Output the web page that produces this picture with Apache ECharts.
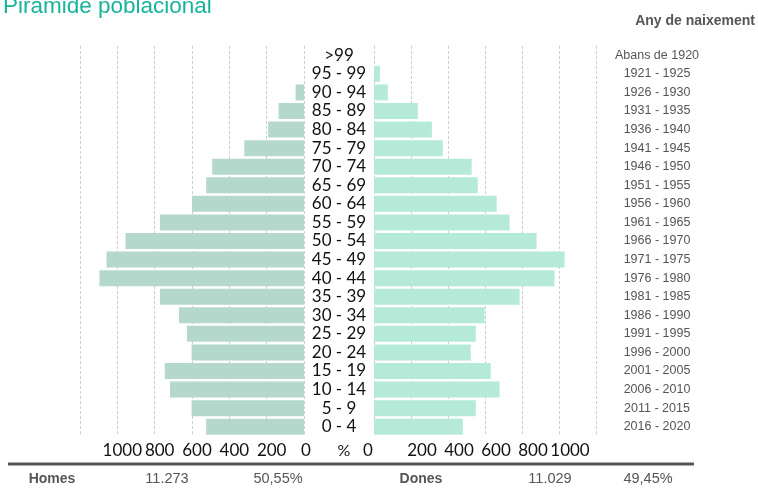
<!DOCTYPE html>
<html>
<head>
<meta charset="utf-8">
<script src="https://cdn.jsdelivr.net/npm/echarts@6/dist/echarts.min.js"></script>
<style>html,body{margin:0;padding:0;background:#fff}#c{width:758px;height:491px}</style>
</head>
<body>
<div id="c"></div>
<script>
const ageGroups = ['>99','95 - 99','90 - 94','85 - 89','80 - 84','75 - 79','70 - 74','65 - 69','60 - 64','55 - 59','50 - 54','45 - 49','40 - 44','35 - 39','30 - 34','25 - 29','20 - 24','15 - 19','10 - 14','5 - 9','0 - 4'];
const birthYears = ['Abans de 1920','1921 - 1925','1926 - 1930','1931 - 1935','1936 - 1940','1941 - 1945','1946 - 1950','1951 - 1955','1956 - 1960','1961 - 1965','1966 - 1970','1971 - 1975','1976 - 1980','1981 - 1985','1986 - 1990','1991 - 1995','1996 - 2000','2001 - 2005','2006 - 2010','2011 - 2015','2016 - 2020'];
const men = [0, 0, 45, 136, 192, 320, 492, 524, 600, 772, 956, 1058, 1096, 772, 670, 627, 602, 746, 718, 602, 524];
const women = [0, 32, 75, 237, 313, 372, 528, 561, 663, 733, 879, 1030, 976, 787, 598, 550, 523, 631, 679, 550, 480];
const tickValues = [0, 200, 400, 600, 800, 1000];
const summary = {menLabel:'Homes', menTotal:'11.273', menPct:'50,55%', womenLabel:'Dones', womenTotal:'11.029', womenPct:'49,45%'};

const chart = echarts.init(document.getElementById('c'), null, {renderer:'canvas'});
const ageFont = 'Lato, "Noto Sans", sans-serif';
const narrow = '"Liberation Sans Narrow", "Liberation Sans", Arial, sans-serif';
const splitLine = {show:true, lineStyle:{color:'#cfcfc8', type:[3,2], width:1}};
function xLabel(side){
  const base = {fontSize:17, fontFamily:ageFont, color:'#111'};
  return {
    show:true, margin:6, fontSize:17, fontFamily:ageFont, color:'#111',
    formatter: v => tickValues.indexOf(v) < 0 ? '' : (v === 0 ? '{z|0}' : '{n|' + v + '}'),
    rich: side === 'L'
      ? {n:Object.assign({padding:[0,0,0,10]}, base), z:Object.assign({padding:[0,0,0,4]}, base)}
      : {n:Object.assign({padding:[0,0,0,22]}, base), z:Object.assign({padding:[0,12,0,0]}, base)}
  };
}
chart.setOption({
  animation:false,
  grid:[
    {left:80, width:224, top:46, height:390},
    {left:374, width:222, top:46, height:390}
  ],
  xAxis:[
    {gridIndex:0, type:'value', min:0, max:1200, interval:200, inverse:true, splitLine, axisLine:{show:false}, axisTick:{show:false}, axisLabel:xLabel('L')},
    {gridIndex:1, type:'value', min:0, max:1200, interval:200, splitLine, axisLine:{show:false}, axisTick:{show:false}, axisLabel:xLabel('R')}
  ],
  yAxis:[
    {gridIndex:0, type:'category', data:ageGroups, inverse:true, position:'right', axisLine:{show:false}, axisTick:{show:false},
     axisLabel:{interval:0, margin:35, align:'center', fontSize:17, fontFamily:ageFont, color:'#111'}},
    {gridIndex:1, type:'category', data:birthYears, inverse:true, position:'right', axisLine:{show:false}, axisTick:{show:false},
     axisLabel:{interval:0, margin:61, align:'center', fontSize:12.5, fontFamily:narrow, color:'#555'}}
  ],
  series:[
    {type:'bar', xAxisIndex:0, yAxisIndex:0, data:men, barCategoryGap:'14%', itemStyle:{color:'#b4d8cc'}},
    {type:'bar', xAxisIndex:1, yAxisIndex:1, data:women, barCategoryGap:'14%', itemStyle:{color:'#b5ead8'}}
  ],
  graphic:[
    {type:'text', x:3, y:7, style:{text:'Piràmide poblacional', fontSize:22.5, fontFamily:'"Liberation Sans", Arial, sans-serif', fill:'#19b29b', verticalAlign:'middle'}},
    {type:'text', x:755, y:21, style:{text:'Any de naixement', fontSize:14, fontWeight:'bold', fontFamily:'"Liberation Sans", Arial, sans-serif', fill:'#555', align:'right', verticalAlign:'middle'}},
    {type:'text', x:344, y:451, style:{text:'%', fontSize:16, fontFamily:ageFont, fill:'#111', align:'center', verticalAlign:'middle'}},
    {type:'rect', shape:{x:8, y:462.5, width:686, height:3}, style:{fill:'#555'}},
    {type:'text', x:52, y:479, style:{text:summary.menLabel, fontSize:14, fontWeight:'bold', fontFamily:narrow, fill:'#555', align:'center', verticalAlign:'middle'}},
    {type:'text', x:167, y:479, style:{text:summary.menTotal, fontSize:14.5, fontFamily:narrow, fill:'#555', align:'center', verticalAlign:'middle'}},
    {type:'text', x:278, y:479, style:{text:summary.menPct, fontSize:14.5, fontFamily:narrow, fill:'#555', align:'center', verticalAlign:'middle'}},
    {type:'text', x:421, y:479, style:{text:summary.womenLabel, fontSize:14, fontWeight:'bold', fontFamily:narrow, fill:'#555', align:'center', verticalAlign:'middle'}},
    {type:'text', x:550, y:479, style:{text:summary.womenTotal, fontSize:14.5, fontFamily:narrow, fill:'#555', align:'center', verticalAlign:'middle'}},
    {type:'text', x:648, y:479, style:{text:summary.womenPct, fontSize:14.5, fontFamily:narrow, fill:'#555', align:'center', verticalAlign:'middle'}}
  ]
});
</script>
</body>
</html>
